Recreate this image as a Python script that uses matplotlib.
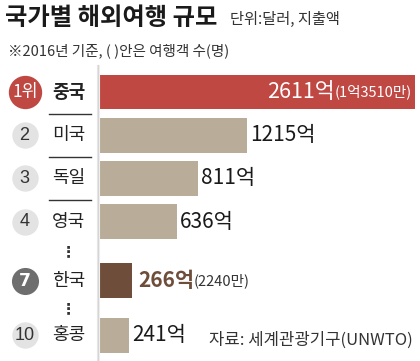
import matplotlib
matplotlib.use("Agg")
import matplotlib.pyplot as plt
from matplotlib import transforms

plt.rcParams['font.family'] = ['Noto Sans CJK KR', 'DejaVu Sans']

# data (2016, 해외여행 지출액, 억 달러)
ranks = ['1위', '2', '3', '4', '7', '10']
countries = ['중국', '미국', '독일', '영국', '한국', '홍콩']
spend = [2611, 1215, 811, 636, 266, 241]
travelers = ['(1억3510만)', '', '', '', '(2240만)', '']

RED = '#BF4843'
TAN = '#B9AD9A'
BROWN = '#6F4D3B'
bar_colors = [RED, TAN, TAN, TAN, BROWN, TAN]

W, H = 420, 361
fig = plt.figure(figsize=(W / 100, H / 100), dpi=100)
fig.patch.set_facecolor('white')

# row layout: a gap (with dots) before rank 7 and before rank 10
ypos = [0, 1, 2, 3, 4.37, 5.63]
row_px = 43.2           # pixels per row unit
top_px, y0_px = 65, 92  # axes top, centre of first row

ax = fig.add_axes([100 / W, 0, 320 / W, (H - top_px) / H])
ax.set_xlim(0, spend[0] * 320 / 315)
ax.set_ylim((H - y0_px) / row_px, -(y0_px - top_px) / row_px)
ax.axis('off')

ax.barh(ypos, spend, height=0.81, color=bar_colors, linewidth=0)

# figure-x (pixels) / data-y transform for the left column
bt = transforms.blended_transform_factory(fig.transFigure, ax.transData)
fx = lambda p: p / W

for i, (rk, name, y) in enumerate(zip(ranks, countries, ypos)):
    if i == 0:
        ax.plot([fx(25)], [y], 'o', ms=24, color=RED, mec='none', transform=bt, clip_on=False)
        ax.text(fx(25), y, rk, color='white', fontsize=12.5, ha='center', va='center',
                transform=bt, fontweight='medium')
    elif rk == '7':
        ax.plot([fx(25)], [y], 'o', ms=19.5, color='#6E6E6E', mec='none', transform=bt, clip_on=False)
        ax.text(fx(25), y, rk, color='white', fontsize=12.5, ha='center', va='center',
                transform=bt, fontweight='bold', family='DejaVu Sans')
    else:
        ax.plot([fx(24.5)], [y], 'o', ms=19, color='#E3E3E3', mec='none', transform=bt, clip_on=False)
        ax.text(fx(24.5), y, rk, color='#333333', fontsize=13, ha='center', va='center',
                transform=bt, family='Liberation Sans')
    ax.text(fx(52), y, name, fontsize=13, ha='left', va='center', transform=bt,
            fontweight='bold' if i == 0 else 'medium', color='#222222')

# separators under the first rows
for y in ypos[:3]:
    ax.plot([fx(49), fx(91)], [y + 0.5, y + 0.5], color='#333333', lw=1.0,
            transform=bt, clip_on=False)

# vertical ellipses for the skipped ranks
for a, b in [(3, 4), (4, 5)]:
    ym = (ypos[a] + ypos[b]) / 2 + 0.02
    ax.text(fx(68), ym, '⋮', fontsize=11, ha='center', va='center', transform=bt,
            family='DejaVu Sans', fontweight='bold', color='#333333')

# left panel edge shadow
for off, c in [(0, '#e6e6e6'), (1, '#d4d4d4'), (2, '#eeeeee')]:
    fig.add_artist(plt.Line2D([fx(97 + off)] * 2, [0, (H - top_px) / H],
                              color=c, lw=0.8, transform=fig.transFigure))

# value labels
for i, (v, y) in enumerate(zip(spend, ypos)):
    if i == 0:
        t = ax.text(spend[0] * 0.99, y, travelers[i], fontsize=10.5, color='white',
                    ha='right', va='center')
        ax.annotate(f'{v}억', xy=(0, 0.5), xycoords=t, ha='right', va='center',
                    fontsize=15.5, color='white')
    elif travelers[i]:
        t = ax.text(v + 50, y, f'{v}억', fontsize=15, color=BROWN, fontweight='bold',
                    ha='left', va='center')
        ax.annotate(travelers[i], xy=(1, 0.5), xycoords=t, ha='left', va='center',
                    fontsize=10.5, color='#333333')
    else:
        ax.text(v + 30, y, f'{v}억', fontsize=15, color='#1a1a1a', ha='left', va='center')

# titles
fig.text(fx(5), 1 - 18 / H, '국가별 해외여행 규모', fontsize=17.5, fontweight='bold',
         color='#1a1a1a', ha='left', va='center')
fig.text(fx(230), 1 - 19 / H, '단위:달러, 지출액', fontsize=11, color='#333333',
         ha='left', va='center')
fig.text(fx(8), 1 - 51 / H, '※2016년 기준, ( )안은 여행객 수(명)', fontsize=10.5,
         color='#333333', ha='left', va='center')
fig.text(fx(413), 1 - 340 / H, '자료: 세계관광기구(UNWTO)', fontsize=12,
         color='#333333', ha='right', va='center')

fig.savefig('out.png', dpi=100, facecolor='white')
